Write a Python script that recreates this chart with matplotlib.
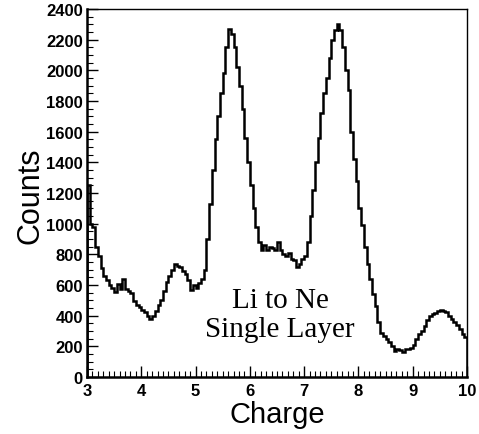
import numpy as np
import matplotlib
matplotlib.use("Agg")
import matplotlib.pyplot as plt
from matplotlib.ticker import MultipleLocator

x_min, x_max, bin_width = 3.0, 10.0, 0.05
counts = [
    1250, 1000, 980, 850, 790, 710, 660, 630, 600, 580,
    555, 605, 575, 640, 575, 560, 545, 495, 470, 455,
    440, 425, 400, 380, 395, 430, 470, 500, 560, 620,
    660, 700, 740, 725, 715, 690, 670, 630, 565, 600,
    580, 610, 640, 700, 900, 1130, 1350, 1550, 1700, 1850,
    1980, 2150, 2270, 2240, 2150, 2020, 1900, 1750, 1560, 1400,
    1250, 1100, 980, 880, 830, 860, 830, 850, 840, 830,
    880, 830, 800, 790, 810, 770, 760, 720, 740, 770,
    790, 880, 1050, 1220, 1400, 1560, 1720, 1850, 1950, 2080,
    2200, 2260, 2300, 2260, 2150, 2000, 1870, 1600, 1420, 1280,
    1100, 990, 850, 740, 640, 540, 460, 360, 290, 270,
    250, 230, 200, 170, 185, 175, 165, 185, 180, 190,
    210, 250, 280, 300, 330, 370, 400, 410, 420, 430,
    440, 430, 425, 400, 380, 360, 340, 310, 280, 260,
]
x_ticks = [3, 4, 5, 6, 7, 8, 9, 10]
y_ticks = [0, 200, 400, 600, 800, 1000, 1200, 1400, 1600, 1800, 2000, 2200, 2400]
label_lines = ["Li to Ne", "Single Layer"]

edges = np.linspace(x_min, x_max, len(counts) + 1)

fig = plt.figure(figsize=(4.79, 4.35), dpi=100)
ax = fig.add_axes([0.1816, 0.131, 0.7933, 0.846])
ax.stairs(counts, edges, color="black", linewidth=1.8)

ax.set_xlim(x_min, x_max)
ax.set_ylim(0, 2400)
ax.set_xticks(x_ticks)
ax.set_yticks(y_ticks)
ax.xaxis.set_minor_locator(MultipleLocator(0.1))
ax.yaxis.set_minor_locator(MultipleLocator(50))
ax.tick_params(which="major", direction="in", length=8, width=1.0,
               top=False, right=False, labelsize=12)
ax.tick_params(axis="x", which="major", pad=4)
ax.tick_params(axis="y", which="major", pad=3)
ax.tick_params(which="minor", direction="in", length=4, width=0.8,
               top=False, right=False)
for lab in ax.get_xticklabels() + ax.get_yticklabels():
    lab.set_fontweight("bold")
    lab.set_family("Liberation Sans")

for s in ["left", "bottom"]:
    ax.spines[s].set_linewidth(1.8)
for s in ["top", "right"]:
    ax.spines[s].set_linewidth(1.0)

fig.text(277 / 479, 1 - 423 / 435, "Charge", fontsize=21, family="Liberation Sans",
         ha="center", va="baseline")
fig.text(30 / 479, 1 - 196 / 435, "Counts", fontsize=22, family="Liberation Sans",
         ha="center", va="center", rotation=90)

ax.text(6.56, 457, label_lines[0], fontsize=21, family="Liberation Serif",
        ha="center", va="baseline")
ax.text(6.56, 267, label_lines[1], fontsize=21, family="Liberation Serif",
        ha="center", va="baseline")

fig.savefig("out.png", dpi=100)
